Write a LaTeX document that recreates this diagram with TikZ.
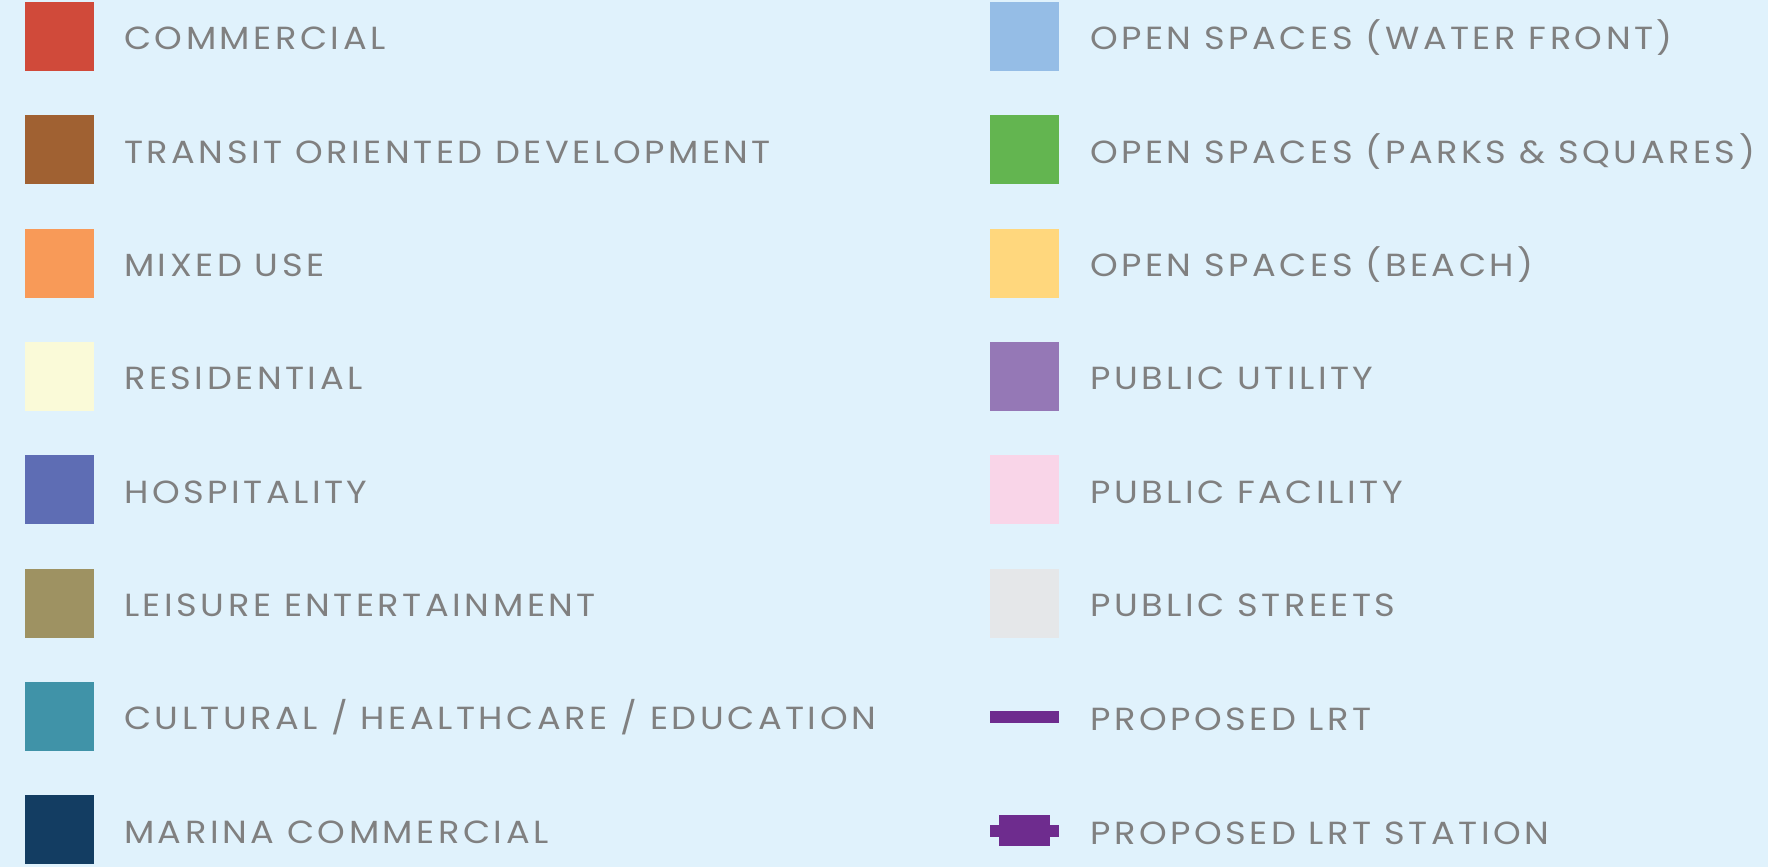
\documentclass[tikz,border=0pt]{standalone}
\usepackage{fontspec}
\setmainfont{Poppins}[LetterSpace=11,FakeStretch=1.1]
\definecolor{bg}{HTML}{E0F2FC}
\definecolor{txt}{HTML}{808080}
\definecolor{cCom}{HTML}{D04A3A}
\definecolor{cTod}{HTML}{A06132}
\definecolor{cMix}{HTML}{F89A58}
\definecolor{cRes}{HTML}{FAFAD8}
\definecolor{cHos}{HTML}{5E6DB4}
\definecolor{cLei}{HTML}{9E9262}
\definecolor{cCul}{HTML}{4093A8}
\definecolor{cMar}{HTML}{133D62}
\definecolor{cWat}{HTML}{95BDE6}
\definecolor{cPar}{HTML}{63B550}
\definecolor{cBea}{HTML}{FFD77D}
\definecolor{cUti}{HTML}{9578B6}
\definecolor{cFac}{HTML}{F9D5E8}
\definecolor{cStr}{HTML}{E5E7E9}
\definecolor{cLrt}{HTML}{6E2C8E}
\tikzset{
  swatch/.style={draw=none,fill=#1,minimum width=69pt,minimum height=69pt,inner sep=0pt,outer sep=0pt},
  label/.style={anchor=base west,inner sep=0pt,text=txt,font=\fontsize{32}{32}\selectfont},
}
\begin{document}
\begin{tikzpicture}[x=1pt,y=1pt]
\fill[bg] (0,0) rectangle (1768,-867);
\useasboundingbox (0,0) rectangle (1768,-867);
% left column
\foreach \c/\t/\i in {cCom/{COMMERCIAL}/0, cTod/{TRANSIT ORIENTED DEVELOPMENT}/1, cMix/{MIXED USE}/2, cRes/{RESIDENTIAL}/3, cHos/{HOSPITALITY}/4, cLei/{LEISURE ENTERTAINMENT}/5, cCul/{CULTURAL / HEALTHCARE / EDUCATION}/6, cMar/{MARINA COMMERCIAL}/7}{
  \pgfmathsetmacro\yy{-(36.5+\i*113.3)}
  \node[swatch=\c] (L\i) at (59.5,\yy) {};
  \node[label] (LT\i) at (124,\yy-13.5) {\t};
}
% right column
\foreach \c/\t/\i in {cWat/{OPEN SPACES (WATER FRONT)}/0, cPar/{OPEN SPACES (PARKS \& SQUARES)}/1, cBea/{OPEN SPACES (BEACH)}/2, cUti/{PUBLIC UTILITY}/3, cFac/{PUBLIC FACILITY}/4, cStr/{PUBLIC STREETS}/5}{
  \pgfmathsetmacro\yy{-(36.5+\i*113.3)}
  \node[swatch=\c] (R\i) at (1024.5,\yy) {};
  \node[label] (RT\i) at (1090,\yy-13.5) {\t};
}
% LRT line
\fill[cLrt] (990,-711) rectangle (1059,-723);
\node[label] (RT6) at (1090,-730.5) {PROPOSED LRT};
% LRT station
\fill[cLrt] (990,-825) rectangle (1059,-837);
\fill[cLrt] (999,-815) rectangle (1050,-846);
\node[label] (RT7) at (1090,-844) {PROPOSED LRT STATION};
\end{tikzpicture}
\end{document}
